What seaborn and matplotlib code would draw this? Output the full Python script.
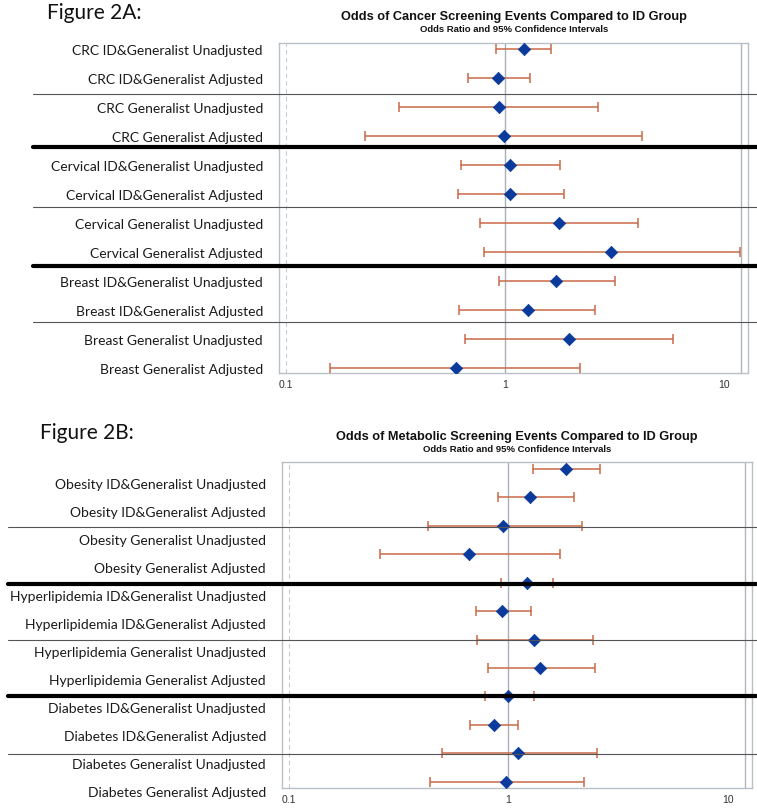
import numpy as np
import pandas as pd
import matplotlib
matplotlib.use("Agg")
import matplotlib.pyplot as plt
import matplotlib.transforms as mtransforms
from matplotlib.ticker import FixedLocator, FixedFormatter, LogLocator, NullFormatter
import seaborn as sns

# Data - Figure 2A (cancer screening)
labels_a = ["CRC ID&Generalist Unadjusted", "CRC ID&Generalist Adjusted",
            "CRC Generalist Unadjusted", "CRC Generalist Adjusted",
            "Cervical ID&Generalist Unadjusted", "Cervical ID&Generalist Adjusted",
            "Cervical Generalist Unadjusted", "Cervical Generalist Adjusted",
            "Breast ID&Generalist Unadjusted", "Breast ID&Generalist Adjusted",
            "Breast Generalist Unadjusted", "Breast Generalist Adjusted"]
or_a = [1.22, 0.93, 0.94, 0.99, 1.05, 1.05, 1.77, 3.06, 1.71, 1.27, 1.97, 0.60]
lo_a = [0.91, 0.68, 0.33, 0.23, 0.63, 0.61, 0.77, 0.80, 0.94, 0.62, 0.66, 0.16]
hi_a = [1.63, 1.30, 2.66, 4.22, 1.78, 1.86, 4.06, 11.85, 3.17, 2.58, 5.87, 2.21]

# Data - Figure 2B (metabolic screening)
labels_b = ["Obesity ID&Generalist Unadjusted", "Obesity ID&Generalist Adjusted",
            "Obesity Generalist Unadjusted", "Obesity Generalist Adjusted",
            "Hyperlipidemia ID&Generalist Unadjusted", "Hyperlipidemia ID&Generalist Adjusted",
            "Hyperlipidemia Generalist Unadjusted", "Hyperlipidemia Generalist Adjusted",
            "Diabetes ID&Generalist Unadjusted", "Diabetes ID&Generalist Adjusted",
            "Diabetes Generalist Unadjusted", "Diabetes Generalist Adjusted"]
or_b = [1.83, 1.26, 0.95, 0.66, 1.21, 0.94, 1.31, 1.40, 1.00, 0.86, 1.11, 0.98]
lo_b = [1.29, 0.90, 0.43, 0.26, 0.93, 0.71, 0.72, 0.81, 0.78, 0.67, 0.50, 0.44]
hi_b = [2.61, 1.99, 2.16, 1.72, 1.60, 1.27, 2.44, 2.47, 1.31, 1.11, 2.53, 2.20]

titles = ["Odds of Cancer Screening Events Compared to ID Group",
          "Odds of Metabolic Screening Events Compared to ID Group"]
subtitle = "Odds Ratio and 95% Confidence Intervals"
fig_labels = ["Figure 2A:", "Figure 2B:"]

sns.set_style("white")
plt.rcParams["font.family"] = ["Liberation Sans", "DejaVu Sans"]

marker_col = "#0a3a9c"
ci_col = "#c96a48"
frame_col = "#b9c0c6"

fig = plt.figure(figsize=(7.57, 8.10), dpi=100)

# axes boxes in figure fractions
ax_a = fig.add_axes([279 / 757, 1 - 373 / 810, 469 / 757, 330 / 810])
ax_b = fig.add_axes([282 / 757, 1 - 788 / 810, 470 / 757, 326 / 810])

# separator rows (in row units of each panel); 2nd and 4th are the thick ones
seps_a = [1.55, 3.38, 5.45, 7.48, 9.41]
seps_b = [2.06, 4.05, 6.02, 7.99, 10.01]

panels = [
    # ax, labels, or, lo, hi, ylim pad, label offset, label step, label x, seps, sep start, title x, title y
    (ax_a, labels_a, or_a, lo_a, hi_a, (0.17, 0.21), 0.05, 1.0, 263 / 757, seps_a, 33 / 757, 514 / 757, 17),
    (ax_b, labels_b, or_b, lo_b, hi_b, (0.22, 0.24), 0.56, 0.986, 266 / 757, seps_b, 8 / 757, 517 / 757, 437),
]

for i, (ax, labs, ors, los, his, pad, loff, lstep, lab_x, seps, sep_x, tx, ty) in enumerate(panels):
    df = pd.DataFrame({"label": labs, "or": ors, "lo": los, "hi": his})
    df["row"] = np.arange(len(df))

    # confidence intervals
    ax.errorbar(df["or"], df["row"],
                xerr=[df["or"] - df["lo"], df["hi"] - df["or"]],
                fmt="none", ecolor=ci_col, elinewidth=1.1, capsize=3.5, capthick=1.1, zorder=3)
    sns.scatterplot(data=df, x="or", y="row", marker="D", s=40, color=marker_col,
                    edgecolor=marker_col, linewidth=0.5, ax=ax, zorder=4, legend=False)

    ax.set_xscale("log")
    ax.set_xlim(0.0933, 12.85)
    ax.set_ylim(len(df) - 1 + pad[0], -pad[1])

    # reference lines
    ax.axvline(1, color="#a7b0b8", lw=1.0, zorder=1)
    ax.axvline(0.1, color="#c8ccd0", lw=0.8, ls=(0, (4, 3)), zorder=1)
    ax.axvline(12.0, color="#b0b7bd", lw=1.0, zorder=1)

    ax.xaxis.set_major_locator(FixedLocator([0.1, 1, 10]))
    ax.xaxis.set_major_formatter(FixedFormatter(["0.1", "1", "10"]))
    ax.xaxis.set_minor_locator(LogLocator(base=10, subs=np.arange(2, 10)))
    ax.xaxis.set_minor_formatter(NullFormatter())
    ax.tick_params(axis="x", which="major", direction="in", length=4, color=frame_col,
                   labelsize=7.5, labelcolor="#333333", pad=5)
    ax.tick_params(axis="x", which="minor", direction="in", length=2.5, color=frame_col)
    ax.set_yticks([])
    ax.set_xlabel("")
    ax.set_ylabel("")
    for sp in ax.spines.values():
        sp.set_color(frame_col)
        sp.set_linewidth(1.0)

    # row labels and separator lines across the figure
    trans = mtransforms.blended_transform_factory(fig.transFigure, ax.transData)
    for r, lab in zip(df["row"], df["label"]):
        ax.text(lab_x, loff + lstep * r, lab, transform=trans, ha="right", va="center",
                fontsize=10, family=["Lato", "DejaVu Sans"], color="#1a1a1a", clip_on=False)
    for k, sep in enumerate(seps):
        thick = k in (1, 3)
        ax.plot([sep_x, 1.0], [sep, sep], transform=trans, clip_on=False,
                color="black" if thick else "#555555", lw=3.0 if thick else 0.8, zorder=5)

    fig.text(tx, 1 - ty / 810, titles[i], ha="center", va="center",
             fontsize=9.2, fontweight="bold", color="#111111")
    fig.text(tx, 1 - (ty + 13) / 810, subtitle, ha="center", va="center",
             fontsize=6.8, fontweight="bold", color="#111111")

fig.text(47 / 757, 1 - 13 / 810, fig_labels[0], ha="left", va="center",
         fontsize=15, family=["Lato", "DejaVu Sans"], color="#111111")
fig.text(40 / 757, 1 - 433 / 810, fig_labels[1], ha="left", va="center",
         fontsize=15, family=["Lato", "DejaVu Sans"], color="#111111")

fig.savefig("out.png", dpi=100)
